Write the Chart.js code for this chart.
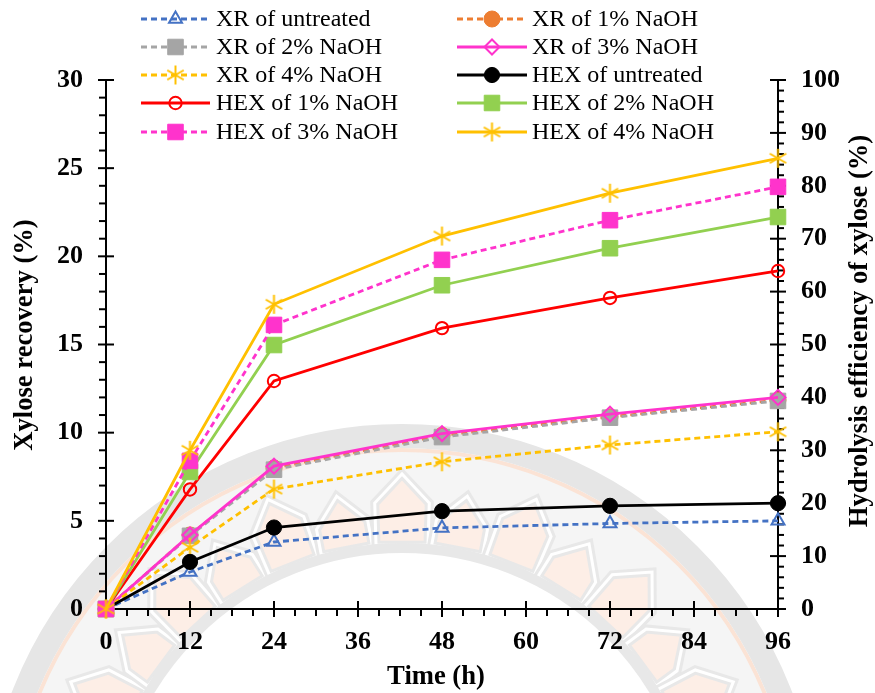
<!DOCTYPE html>
<html>
<head>
<meta charset="utf-8">
<style>
  html, body { margin: 0; padding: 0; background: #fff; }
  #wrap { width: 875px; height: 693px; position: relative; }
</style>
<script src="https://cdn.jsdelivr.net/npm/chart.js@4"></script>
</head>
<body>
<div id="wrap"><canvas id="xyloseChart" width="875" height="693"></canvas></div>
<script>
const times = [0, 12, 24, 48, 72, 96];

// XR series read against the left axis, HEX series against the right axis
const xrUntreated = [0, 2.1, 3.8, 4.6, 4.85, 5.0];
const xr1 = [0, 4.2, 8.0, 9.85, 10.9, 11.85];
const xr2 = [0, 4.15, 7.9, 9.75, 10.85, 11.8];
const xr3 = [0, 4.2, 8.1, 9.95, 11.05, 12.0];
const xr4 = [0, 3.5, 6.8, 8.35, 9.3, 10.05];
const hexUntreated = [0, 8.9, 15.4, 18.5, 19.5, 20.0];
const hex1 = [0, 22.6, 43.1, 53.1, 58.8, 63.9];
const hex2 = [0, 25.9, 49.9, 61.2, 68.2, 74.1];
const hex3 = [0, 28.0, 53.7, 66.0, 73.5, 79.8];
const hex4 = [0, 30.0, 57.6, 70.5, 78.6, 85.2];

const seriesLabels = [
    'XR of untreated', 'XR of 1% NaOH', 'XR of 2% NaOH', 'XR of 3% NaOH', 'XR of 4% NaOH',
    'HEX of untreated', 'HEX of 1% NaOH', 'HEX of 2% NaOH', 'HEX of 3% NaOH', 'HEX of 4% NaOH'
];

const SERIF = '"Liberation Serif", "Times New Roman", serif';
const DASH = [6, 4];

// six-armed asterisk, chart.js 'star' has eight arms
const asterisk = (color) => {
    const c = document.createElement('canvas');
    c.width = 21;
    c.height = 21;
    const g = c.getContext('2d');
    g.strokeStyle = color;
    g.lineWidth = 2;
    g.translate(10.5, 10.5);
    for (let i = 0; i < 3; i++) {
        g.beginPath();
        g.moveTo(0, -9.5);
        g.lineTo(0, 9.5);
        g.stroke();
        g.rotate(Math.PI / 3);
    }
    return c;
};

const makeSeries = (i, values, axis, color, style, radius, dashed, open) => ({
    label: seriesLabels[i],
    data: values.map((v, k) => ({ x: times[k], y: v })),
    yAxisID: axis,
    borderColor: color,
    backgroundColor: color,
    borderWidth: 2.8,
    borderDash: dashed ? DASH : [],
    pointStyle: style,
    pointRadius: radius,
    pointHoverRadius: radius,
    pointBorderColor: color,
    pointBackgroundColor: open ? 'rgba(0,0,0,0)' : color,
    pointBorderWidth: open ? 2 : 1,
    tension: 0,
    fill: false,
    clip: false,
    // later series sit on top, as in the original
    order: 20 - i
});

const datasets = [
    makeSeries(0, xrUntreated, 'y', '#4472C4', 'triangle', 7.5, true, true),
    makeSeries(1, xr1, 'y', '#ED7D31', 'circle', 8, true, false),
    makeSeries(2, xr2, 'y', '#A5A5A5', 'rect', 11, true, false),
    makeSeries(3, xr3, 'y', '#FF33CC', 'rectRot', 7.5, false, true),
    makeSeries(4, xr4, 'y', '#FFC000', asterisk('#FFC000'), 9, true, false),
    makeSeries(5, hexUntreated, 'y2', '#000000', 'circle', 7.6, false, false),
    makeSeries(6, hex1, 'y2', '#FF0000', 'circle', 6.2, false, true),
    makeSeries(7, hex2, 'y2', '#92D050', 'rect', 11, false, false),
    makeSeries(8, hex3, 'y2', '#FF33CC', 'rect', 11, true, false),
    makeSeries(9, hex4, 'y2', '#FFC000', asterisk('#FFC000'), 9, false, false)
];

// faint seal behind the chart
const sealPlugin = {
    id: 'seal',
    beforeDraw(chart) {
        const { ctx } = chart;
        const cx = 402;
        const cy = 842;
        const ring = (r, w, color) => {
            ctx.beginPath();
            ctx.arc(cx, cy, r, 0, Math.PI * 2);
            ctx.lineWidth = w;
            ctx.strokeStyle = color;
            ctx.stroke();
        };
        const polar = (r, deg) => {
            const a = (deg - 90) * Math.PI / 180;
            return [cx + r * Math.cos(a), cy + r * Math.sin(a)];
        };
        const petal = (deg, tip) => {
            const base = 298;
            const shoulder = tip - 28;
            ctx.beginPath();
            ctx.moveTo(...polar(base, deg - 5));
            ctx.lineTo(...polar(shoulder, deg - 4.6));
            ctx.lineTo(...polar(tip, deg));
            ctx.lineTo(...polar(shoulder, deg + 4.6));
            ctx.lineTo(...polar(base, deg + 5));
            ctx.closePath();
            ctx.fillStyle = '#fdeee6';
            ctx.fill();
            ctx.lineWidth = 9;
            ctx.strokeStyle = '#e8e8e8';
            ctx.stroke();
            ctx.lineWidth = 3;
            ctx.strokeStyle = '#ffffff';
            ctx.stroke();
        };
        ctx.save();
        ctx.fillStyle = '#ffffff';
        ctx.fillRect(0, 0, 875, 693);
        ctx.beginPath();
        ctx.rect(0, 400, 875, 293);
        ctx.clip();
        ring(342, 100, '#f5f5f5');
        ring(392, 4, '#fbe3d5');
        ring(406, 24, '#e6e6e6');
        for (let k = -8; k <= 8; k++) {
            petal(k * 10.7, k % 2 === 0 ? 368 : 352);
        }
        ring(294, 10, '#e8e8e8');
        ctx.restore();
    }
};

// tick marks: long ones cross the axis, short ones stay outside
const tickPlugin = {
    id: 'axisTicks',
    beforeDatasetsDraw(chart) {
        const { ctx, chartArea: a, scales } = chart;
        const mark = (x1, y1, x2, y2) => {
            ctx.beginPath();
            ctx.moveTo(x1, y1);
            ctx.lineTo(x2, y2);
            ctx.stroke();
        };
        ctx.save();
        ctx.strokeStyle = '#000';
        ctx.lineWidth = 2;
        scales.x.ticks.forEach((t) => {
            const p = scales.x.getPixelForValue(t.value);
            if (t.value % 12 === 0) mark(p, a.bottom - 8, p, a.bottom + 8);
            else mark(p, a.bottom, p, a.bottom + 7);
        });
        scales.y.ticks.forEach((t) => {
            const p = scales.y.getPixelForValue(t.value);
            if (t.value % 5 === 0) mark(a.left - 8, p, a.left + 8, p);
            else mark(a.left - 7, p, a.left, p);
        });
        scales.y2.ticks.forEach((t) => {
            const p = scales.y2.getPixelForValue(t.value);
            if (t.value % 10 === 0) mark(a.right - 8, p, a.right + 8, p);
            else mark(a.right, p, a.right + 6, p);
        });
        ctx.restore();
    }
};

// two column legend and the axis titles (the right one reads bottom to top)
const legendPlugin = {
    id: 'twoColumnLegend',
    afterDraw(chart) {
        const { ctx } = chart;
        const rows = [19, 47, 75, 103, 132];
        const columns = [{ from: 141, to: 210, text: 216 }, { from: 457, to: 527, text: 532 }];
        ctx.save();
        chart.data.datasets.forEach((ds, i) => {
            const col = columns[i % 2];
            const y = rows[Math.floor(i / 2)];
            ctx.beginPath();
            ctx.setLineDash(ds.borderDash);
            ctx.lineWidth = ds.borderWidth;
            ctx.strokeStyle = ds.borderColor;
            ctx.moveTo(col.from, y);
            ctx.lineTo(col.to, y);
            ctx.stroke();
            ctx.setLineDash([]);
            ctx.fillStyle = ds.pointBackgroundColor;
            ctx.strokeStyle = ds.pointBorderColor;
            ctx.lineWidth = ds.pointBorderWidth;
            Chart.helpers.drawPoint(ctx, {
                pointStyle: ds.pointStyle,
                radius: ds.pointRadius,
                rotation: 0,
                borderWidth: ds.pointBorderWidth
            }, (col.from + col.to) / 2, y);
            ctx.fillStyle = '#000';
            ctx.font = '24px ' + SERIF;
            ctx.textAlign = 'left';
            ctx.textBaseline = 'middle';
            ctx.fillText(ds.label, col.text, y + 1);
        });

        ctx.font = 'bold 26.6px ' + SERIF;
        ctx.textAlign = 'center';
        ctx.textBaseline = 'middle';
        ctx.fillStyle = '#000';
        ctx.fillText('Time (h)', 436, 677);
        [['Xylose recovery (%)', 25, 335], ['Hydrolysis efficiency of xylose (%)', 860, 331]].forEach(([text, x, y]) => {
            ctx.save();
            ctx.translate(x, y);
            ctx.rotate(-Math.PI / 2);
            ctx.fillText(text, 0, 0);
            ctx.restore();
        });
        ctx.restore();
    }
};

new Chart(document.getElementById('xyloseChart'), {
    type: 'line',
    data: { datasets },
    plugins: [sealPlugin, tickPlugin, legendPlugin],
    options: {
        responsive: false,
        animation: false,
        events: [],
        layout: { padding: { top: 80, left: 0, right: 0, bottom: 0 } },
        plugins: {
            legend: { display: false },
            tooltip: { enabled: false }
        },
        scales: {
            x: {
                type: 'linear',
                min: 0,
                max: 96,
                afterFit: (scale) => { scale.height = 84; },
                border: { color: '#000', width: 2 },
                grid: { display: false },
                ticks: {
                    stepSize: 3,
                    autoSkip: false,
                    maxRotation: 0,
                    padding: 10,
                    color: '#000',
                    font: { family: SERIF, size: 26, weight: 'bold' },
                    callback: (v) => (v % 12 === 0 ? String(v) : '')
                }
            },
            y: {
                position: 'left',
                min: 0,
                max: 30,
                afterFit: (scale) => { scale.width = 106; },
                border: { color: '#000', width: 2 },
                grid: { display: false },
                ticks: {
                    stepSize: 1,
                    autoSkip: false,
                    padding: 15,
                    color: '#000',
                    font: { family: SERIF, size: 26, weight: 'bold' },
                    callback: (v) => (v % 5 === 0 ? String(v) : '')
                }
            },
            y2: {
                position: 'right',
                min: 0,
                max: 100,
                afterFit: (scale) => { scale.width = 97; },
                border: { color: '#000', width: 2 },
                grid: { display: false },
                ticks: {
                    stepSize: 2,
                    autoSkip: false,
                    padding: 15,
                    color: '#000',
                    font: { family: SERIF, size: 26, weight: 'bold' },
                    callback: (v) => (v % 10 === 0 ? String(v) : '')
                }
            }
        }
    }
});
</script>
</body>
</html>
